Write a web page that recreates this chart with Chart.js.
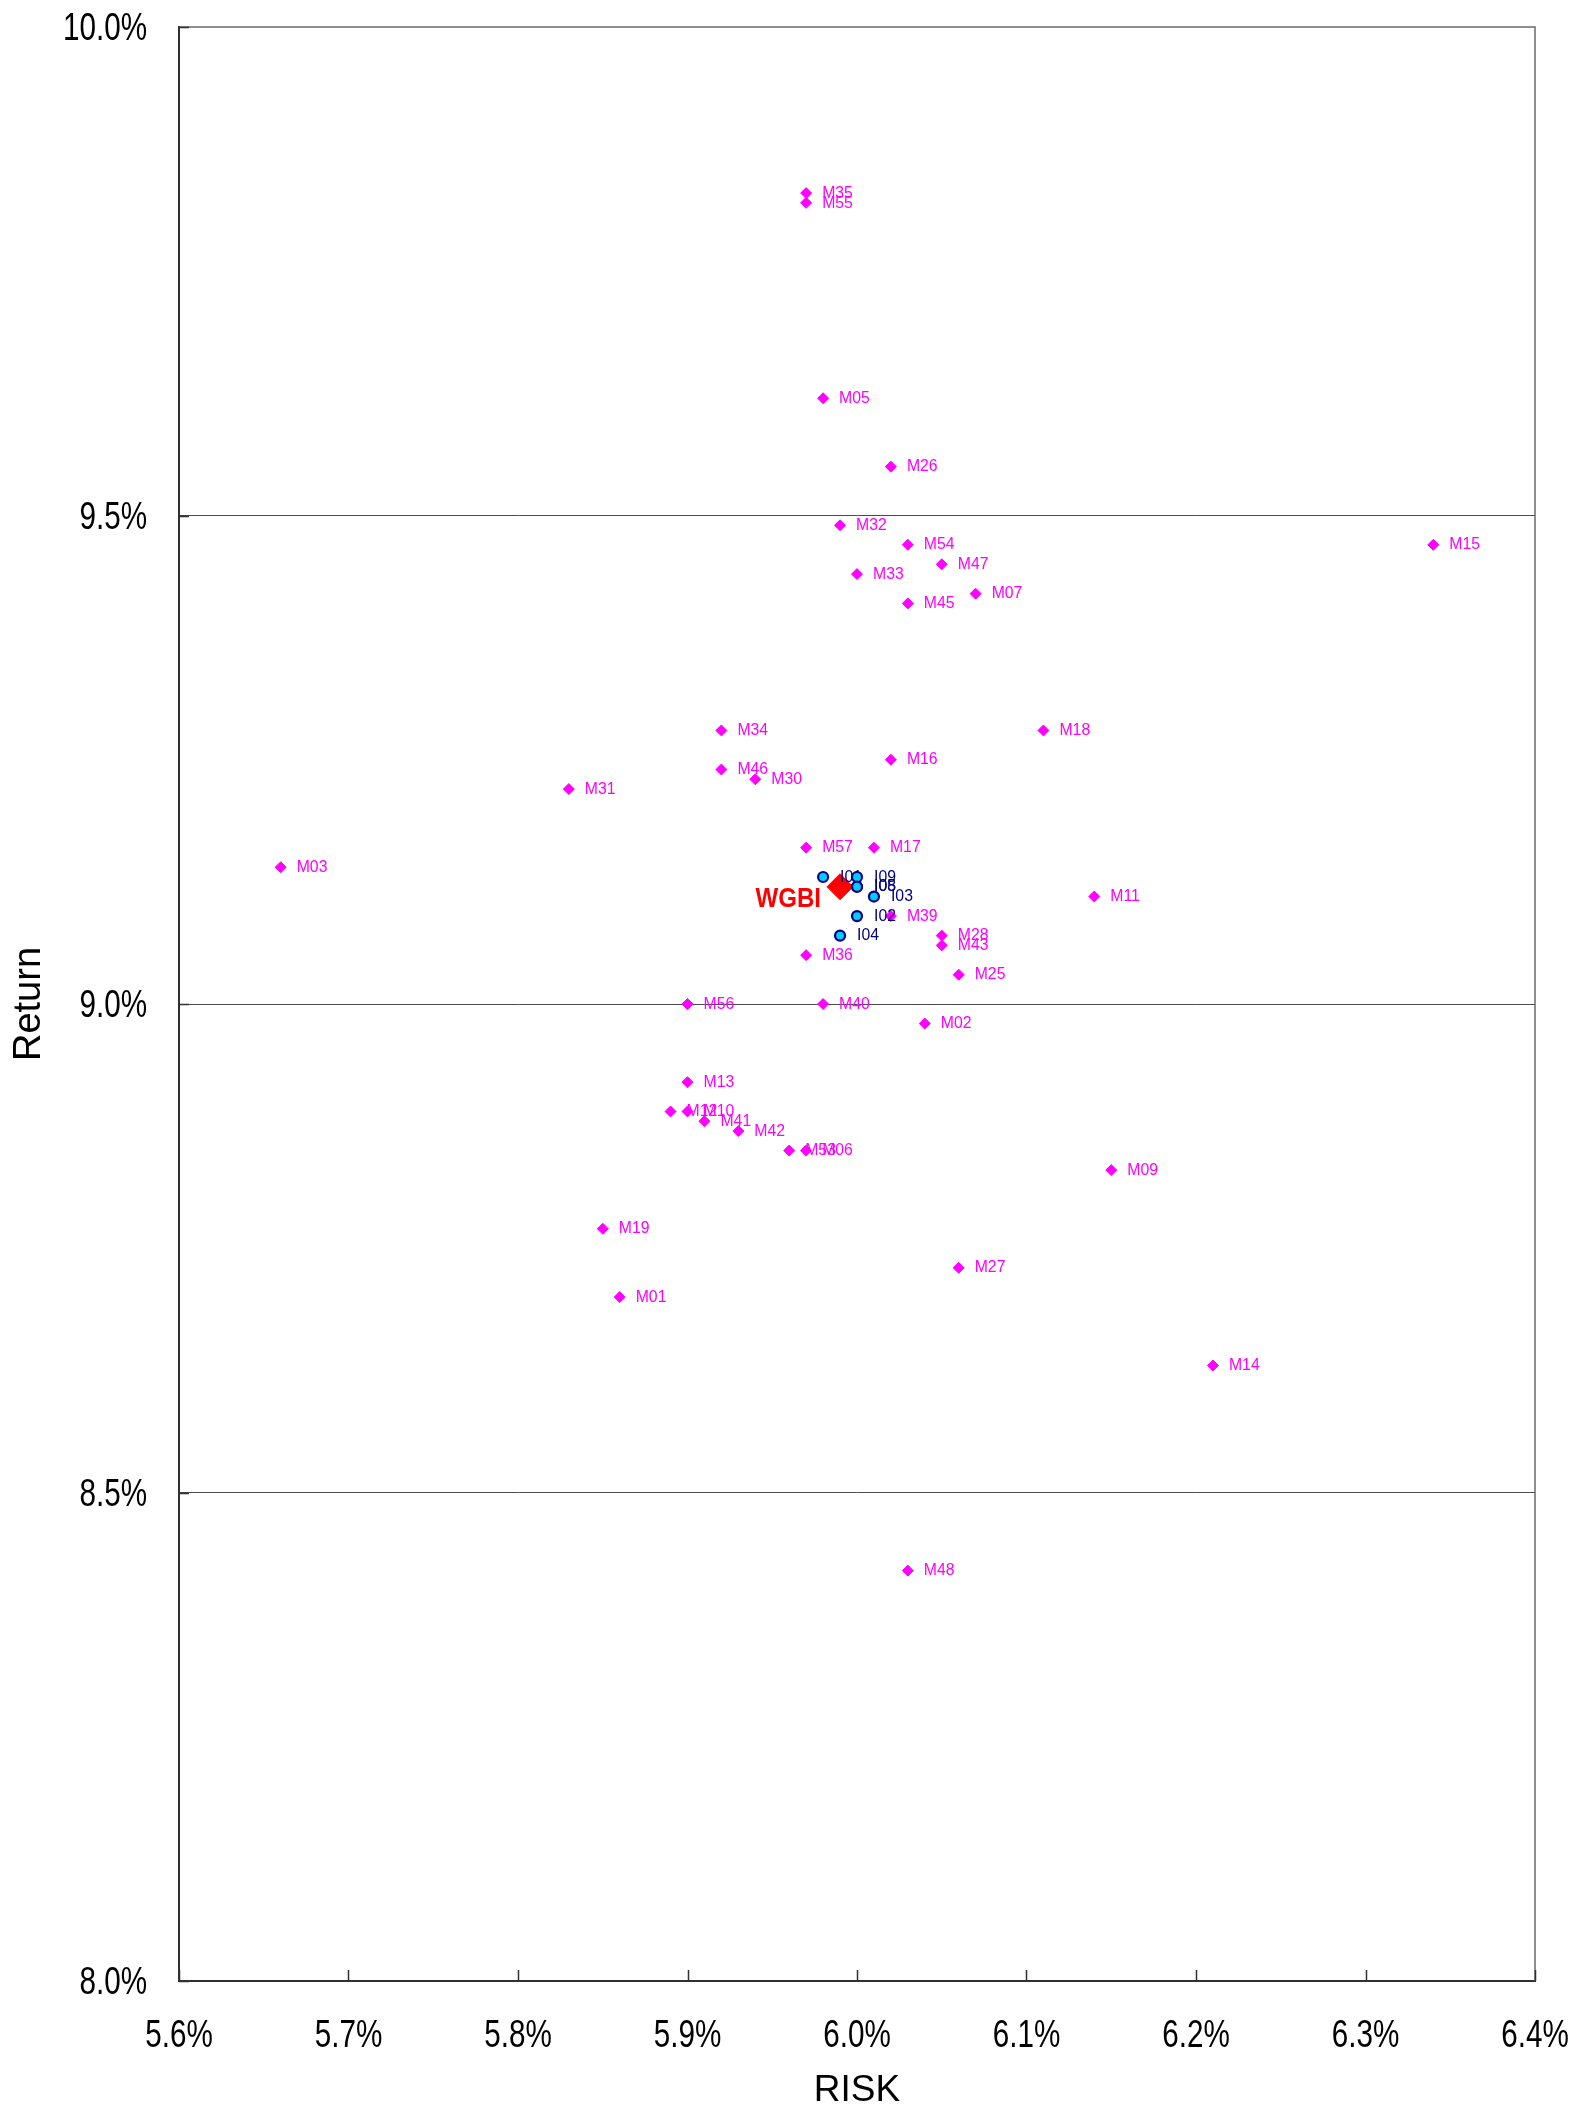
<!DOCTYPE html>
<html><head><meta charset="utf-8">
<script src="https://cdn.jsdelivr.net/npm/chart.js@4.4.0/dist/chart.umd.min.js"></script>
<style>html,body{margin:0;padding:0;background:#fff;}#wrap{width:1588px;height:2109px;}</style>
</head><body><div id="wrap"><canvas id="c" width="1588" height="2109"></canvas></div>
<script>
// ---- data ----
const xTickLabels = ['5.6%','5.7%','5.8%','5.9%','6.0%','6.1%','6.2%','6.3%','6.4%'];
const yTickLabels = ['8.0%','8.5%','9.0%','9.5%','10.0%'];
const xTitle = 'RISK';
const yTitle = 'Return';

const mNames  = ['M35','M55','M05','M26','M32','M54','M15','M47','M33','M07','M45','M34','M18','M16','M46','M30','M31','M03','M57','M17','M11','M39','M28','M43','M36','M25','M56','M40','M02','M13','M12','M10','M41','M42','M53','M06','M09','M19','M27','M01','M14','M48'];
const mRisk   = [5.97,5.97,5.98,6.02,5.99,6.03,6.34,6.05,6.00,6.07,6.03,5.92,6.11,6.02,5.92,5.94,5.83,5.66,5.97,6.01,6.14,6.02,6.05,6.05,5.97,6.06,5.90,5.98,6.04,5.90,5.89,5.90,5.91,5.93,5.96,5.97,6.15,5.85,6.06,5.86,6.21,6.03];
const mReturn = [9.83,9.82,9.62,9.55,9.49,9.47,9.47,9.45,9.44,9.42,9.41,9.28,9.28,9.25,9.24,9.23,9.22,9.14,9.16,9.16,9.11,9.09,9.07,9.06,9.05,9.03,9.00,9.00,8.98,8.92,8.89,8.89,8.88,8.87,8.85,8.85,8.83,8.77,8.73,8.70,8.63,8.42];

const iNames  = ['I01','I09','I05','I08','I03','I02','I04'];
const iRisk   = [5.98,6.00,6.00,6.00,6.01,6.00,5.99];
const iReturn = [9.13,9.13,9.12,9.12,9.11,9.09,9.07];

const wNames  = ['WGBI'];
const wRisk   = [5.99];
const wReturn = [9.12];

const toPts = (xs, ys) => xs.map((x, i) => ({x: x, y: ys[i]}));

// ---- label plugin ----
function squishText(ctx, text, x, y, sx) {
  ctx.save();
  ctx.translate(x, y);
  ctx.scale(sx, 1);
  ctx.fillText(text, 0, 0);
  ctx.restore();
}
function drawLabels(chart, idx) {
  const ds = chart.data.datasets[idx];
  if (!ds.names) return;
  const meta = chart.getDatasetMeta(idx);
  const ctx = chart.ctx;
  ctx.save();
  ctx.font = ds.labelFont;
  ctx.fillStyle = ds.labelColor;
  ctx.textAlign = ds.labelAlign;
  ctx.textBaseline = 'middle';
  meta.data.forEach((pt, j) => squishText(ctx, ds.names[j], pt.x + ds.labelDx, pt.y + ds.labelDy, ds.labelSx));
  ctx.restore();
}
const labelPlugin = {
  id: 'pointLabels',
  beforeDatasetDraw(chart, args) { if (chart.data.datasets[args.index].labelBefore) drawLabels(chart, args.index); },
  afterDatasetDraw(chart, args) { if (!chart.data.datasets[args.index].labelBefore) drawLabels(chart, args.index); }
};
const TICK_FONT = "38px 'Liberation Sans', Arial, sans-serif";
const TICK_SX = 0.78;
const framePlugin = {
  id: 'frame',
  afterDraw(chart) {
    const ctx = chart.ctx, a = chart.chartArea;
    const xs = chart.scales.x, ys = chart.scales.y;
    ctx.save();
    ctx.strokeStyle = '#6a6a6a';
    ctx.lineWidth = 1.5;
    ctx.beginPath();
    ctx.moveTo(a.left, a.top); ctx.lineTo(a.right, a.top); ctx.lineTo(a.right, a.bottom);
    ctx.stroke();
    ctx.strokeStyle = '#303030';
    ctx.lineWidth = 1.5;
    xs.ticks.forEach(t => {
      const px = Math.round(xs.getPixelForValue(t.value)) + 0.5;
      ctx.beginPath(); ctx.moveTo(px, a.bottom); ctx.lineTo(px, a.bottom - 11); ctx.stroke();
    });
    ys.ticks.forEach(t => {
      const py = Math.round(ys.getPixelForValue(t.value)) + 0.5;
      ctx.beginPath(); ctx.moveTo(a.left, py); ctx.lineTo(a.left + 10, py); ctx.stroke();
    });
    // tick labels (horizontally condensed, as in the original)
    ctx.fillStyle = '#000';
    ctx.font = TICK_FONT;
    ctx.textBaseline = 'middle';
    ctx.textAlign = 'center';
    xs.ticks.forEach((t, i) => squishText(ctx, xTickLabels[i], xs.getPixelForValue(t.value), a.bottom + 56, TICK_SX));
    ctx.textAlign = 'right';
    ys.ticks.forEach((t, i) => squishText(ctx, yTickLabels[i], a.left - 32, ys.getPixelForValue(t.value) + 3, TICK_SX));
    ctx.restore();
  }
};

new Chart(document.getElementById('c'), {
  type: 'scatter',
  data: {
    datasets: [
      {
        label: 'I', data: toPts(iRisk, iReturn), names: iNames,
        pointStyle: 'circle', pointRadius: 5, borderWidth: 2.2,
        backgroundColor: '#00CCFF', borderColor: '#000080',
        labelFont: "17px 'Liberation Sans', Arial, sans-serif", labelColor: '#000080',
        labelAlign: 'left', labelDx: 17, labelDy: 0, labelSx: 0.93, labelBefore: true
      },
      {
        label: 'WGBI', data: toPts(wRisk, wReturn), names: wNames,
        pointStyle: 'rectRot', pointRadius: 13, borderWidth: 1,
        backgroundColor: '#FF0000', borderColor: '#FF0000',
        labelFont: "bold 28px 'Liberation Sans', Arial, sans-serif", labelColor: '#FF0000',
        labelAlign: 'right', labelDx: -19, labelDy: 13, labelSx: 0.86
      },
      {
        label: 'M', data: toPts(mRisk, mReturn), names: mNames,
        pointStyle: 'rectRot', pointRadius: 5.5, borderWidth: 1,
        backgroundColor: '#FF00FF', borderColor: '#FF00FF',
        labelFont: "17px 'Liberation Sans', Arial, sans-serif", labelColor: '#FF00FF',
        labelAlign: 'left', labelDx: 16, labelDy: 0, labelSx: 0.93
      }
    ]
  },
  options: {
    responsive: false, animation: false, devicePixelRatio: 1,
    layout: {padding: {top: 27, right: 53, left: 0, bottom: 0}},
    plugins: {legend: {display: false}, tooltip: {enabled: false}},
    elements: {point: {hoverRadius: 0}},
    scales: {
      x: {
        type: 'linear', min: 5.6, max: 6.4,
        afterFit(s) { s.height = 128; s.paddingLeft = 0; s.paddingRight = 0; s.paddingTop = 0; s.paddingBottom = 0; },
        ticks: {stepSize: 0.1, display: false, callback: (v, i) => xTickLabels[i]},
        grid: {display: false, drawTicks: false},
        border: {display: true, color: '#303030', width: 2},
        title: {display: true, text: xTitle, color: '#000',
          font: {family: "'Liberation Sans', Arial, sans-serif", size: 37, lineHeight: 1},
          padding: {top: 0, bottom: 0}}
      },
      y: {
        type: 'linear', min: 8, max: 10,
        afterFit(s) { s.width = 179; s.paddingLeft = 0; s.paddingRight = 0; s.paddingTop = 0; s.paddingBottom = 0; },
        ticks: {stepSize: 0.5, display: false, callback: (v, i) => yTickLabels[i]},
        grid: {drawTicks: false, lineWidth: 1,
          color: c => (c.tick && (Math.abs(c.tick.value - 8) < 1e-6 || Math.abs(c.tick.value - 10) < 1e-6)) ? 'rgba(0,0,0,0)' : '#4a4a4a'},
        border: {display: true, color: '#303030', width: 2},
        title: {display: true, text: yTitle, color: '#000',
          font: {family: "'Liberation Sans', Arial, sans-serif", size: 38, lineHeight: 1},
          padding: {top: 11, bottom: 0}}
      }
    }
  },
  plugins: [labelPlugin, framePlugin]
});
</script></body></html>
